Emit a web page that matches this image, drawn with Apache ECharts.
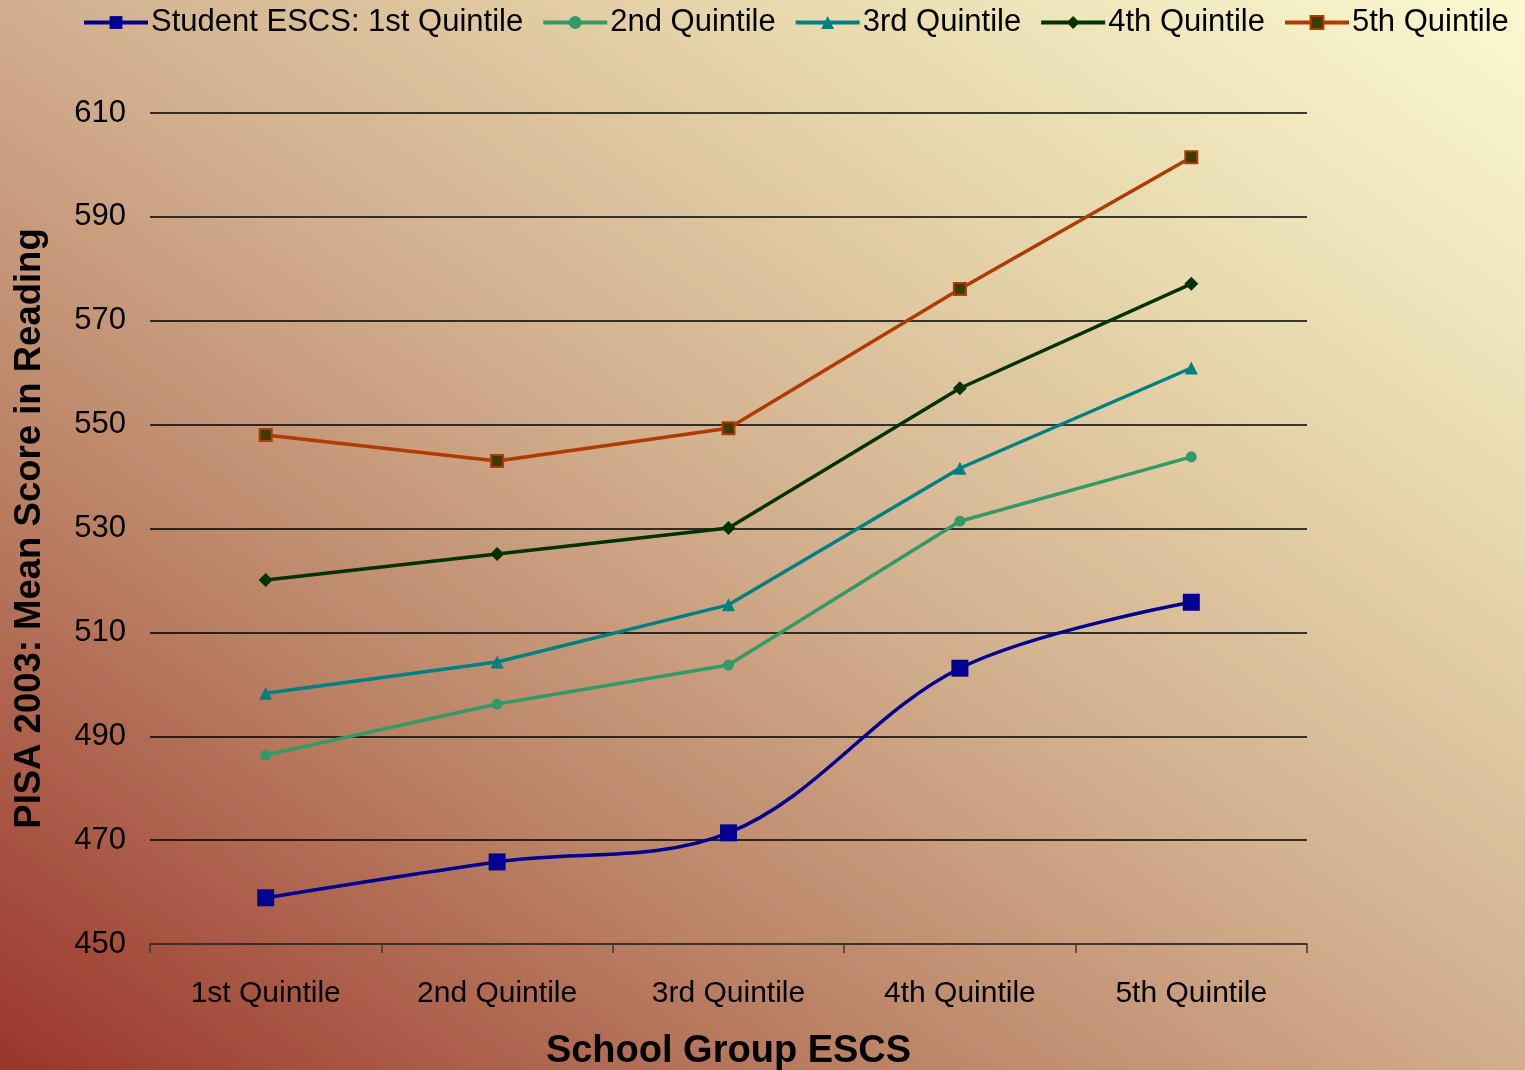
<!DOCTYPE html>
<html>
<head>
<meta charset="utf-8">
<script src="https://cdn.jsdelivr.net/npm/echarts@6/dist/echarts.min.js"></script>
<style>
html,body{margin:0;padding:0;}
#c{width:1525px;height:1070px;}
</style>
</head>
<body>
<div id="c"></div>
<script>
var categories = ['1st Quintile', '2nd Quintile', '3rd Quintile', '4th Quintile', '5th Quintile'];
var seriesNames = ['Student ESCS: 1st Quintile', '2nd Quintile', '3rd Quintile', '4th Quintile', '5th Quintile'];
var q1 = [458.9, 465.8, 471.4, 503.1, 515.8];
var q2 = [486.4, 496.2, 503.7, 531.4, 543.8];
var q3 = [498.3, 504.3, 515.3, 541.6, 560.9];
var q4 = [520.1, 525.1, 530.1, 557.0, 577.1];
var q5 = [548.0, 543.0, 549.3, 576.1, 601.5];
var yMin = 450, yMax = 610, yStep = 20;

var FONT = "'Liberation Sans', Arial, sans-serif";
var chart = echarts.init(document.getElementById('c'), null, {renderer: 'canvas'});

var bg = new echarts.graphic.LinearGradient(259, 1252, 1265, -182, [
  {offset: 0, color: '#9a3529'},
  {offset: 0.28, color: '#ba8064'},
  {offset: 0.5, color: '#d1ae8c'},
  {offset: 0.75, color: '#e8d9ae'},
  {offset: 1, color: '#fbf9d0'}
], true);

function mk(name, data, color, symbol, size, extra) {
  var s = {
    name: name,
    type: 'line',
    data: data,
    symbol: symbol,
    symbolSize: size,
    lineStyle: {color: color, width: 3.5},
    itemStyle: {color: color},
    emphasis: {disabled: true},
    z: 3
  };
  if (extra) Object.assign(s, extra);
  return s;
}

chart.setOption({
  backgroundColor: bg,
  animation: false,
  textStyle: {fontFamily: FONT},
  legend: {
    top: 2,
    left: 77,
    itemWidth: 64,
    itemHeight: 16,
    itemGap: 18,
    lineStyle: {width: 4},
    textStyle: {fontSize: 31, color: '#000', fontFamily: FONT, padding: [0, 0, 0, -2]},
    data: seriesNames
  },
  grid: {left: 150, right: 218, top: 113, bottom: 126, containLabel: false, outerBoundsMode: 'none'},
  xAxis: {
    type: 'category',
    data: categories,
    boundaryGap: true,
    axisLine: {lineStyle: {color: '#3a3a3a', width: 1.5}},
    axisTick: {show: true, length: 9, lineStyle: {color: '#3a3a3a', width: 1.5}},
    axisLabel: {fontSize: 30, color: '#000', margin: 35, fontFamily: FONT},
    name: 'School Group ESCS',
    nameLocation: 'middle',
    nameGap: 89,
    nameTextStyle: {fontSize: 38, fontWeight: 'bold', color: '#000', fontFamily: FONT}
  },
  yAxis: {
    type: 'value',
    min: yMin,
    max: yMax,
    interval: yStep,
    axisLine: {show: false},
    axisTick: {show: false},
    axisLabel: {fontSize: 31, color: '#000', margin: 24, fontFamily: FONT},
    splitLine: {lineStyle: {color: '#000', width: 1.5}},
    name: 'PISA 2003: Mean Score in Reading',
    nameLocation: 'middle',
    nameGap: 102,
    nameTextStyle: {fontSize: 36.5, fontWeight: 'bold', color: '#000', fontFamily: FONT}
  },
  series: [
    mk(seriesNames[0], q1, '#000090', 'rect', 17, {smooth: 0.35, z: 5}),
    mk(seriesNames[1], q2, '#339966', 'circle', 11),
    mk(seriesNames[2], q3, '#008080', 'triangle', 13),
    mk(seriesNames[3], q4, '#003300', 'diamond', 14),
    mk(seriesNames[4], q5, '#b03a00', 'rect', 12, {itemStyle: {color: '#3b3b00', borderColor: '#b03a00', borderWidth: 2}})
  ]
});
</script>
</body>
</html>
